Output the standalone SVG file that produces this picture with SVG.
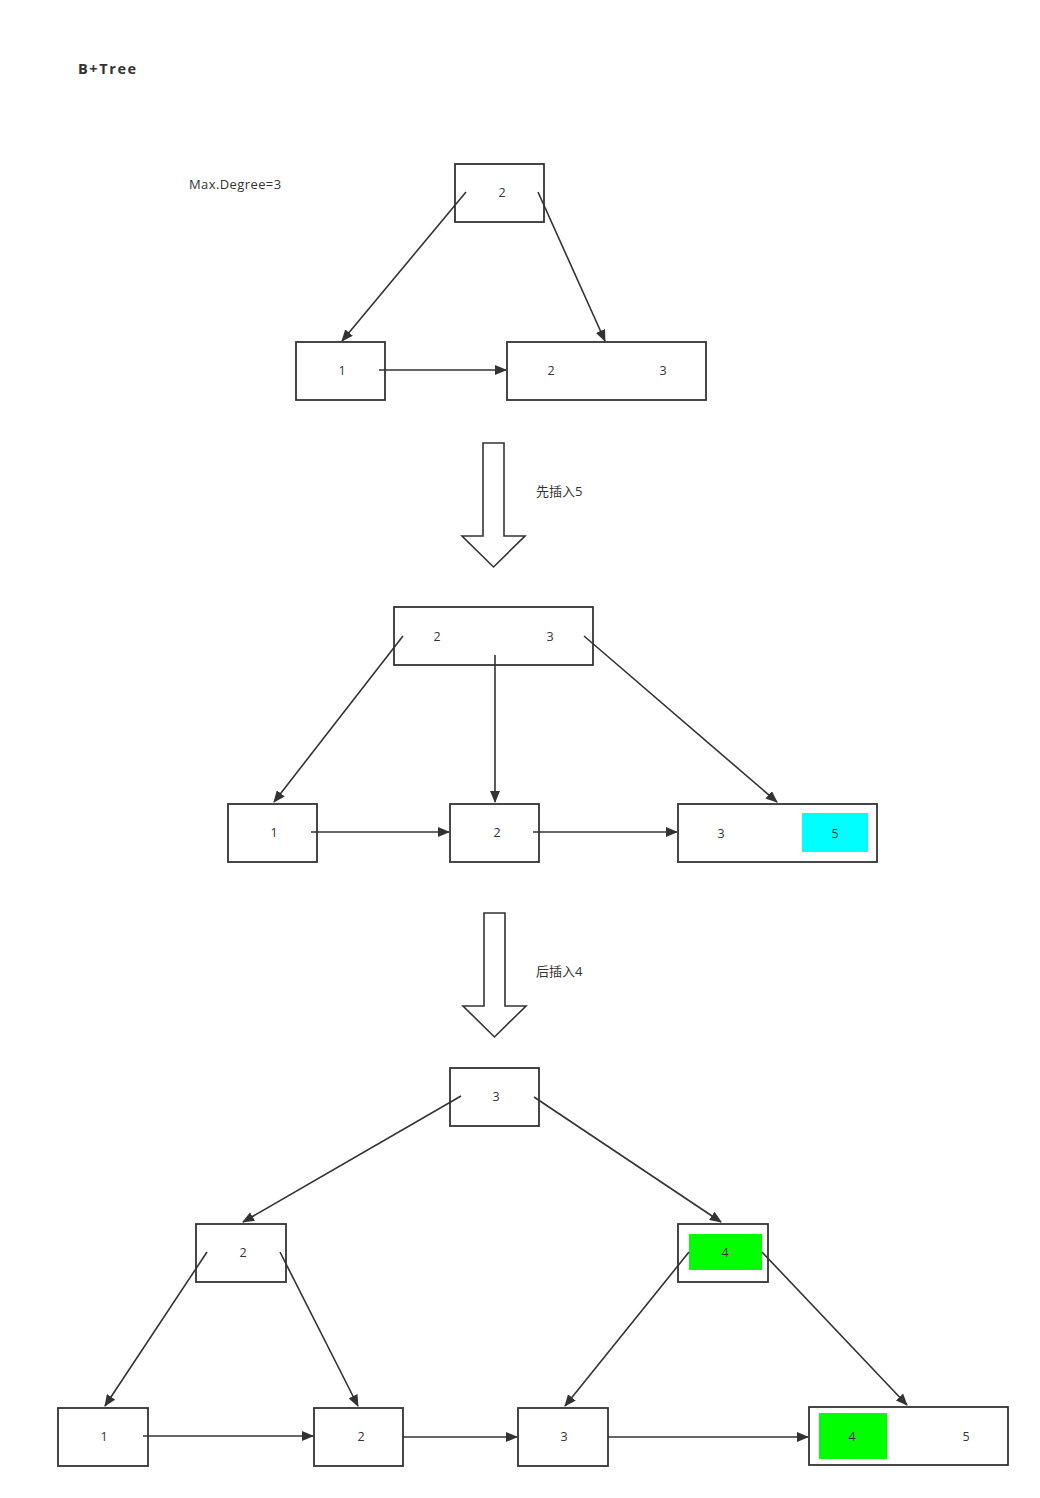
<svg xmlns="http://www.w3.org/2000/svg" width="1040" height="1498" viewBox="0 0 1040 1498">
<style>
.n{fill:#fff;stroke:#333;stroke-width:1.8}
.t{font-family:"Open Sans","Noto Sans CJK SC",sans-serif;font-size:12.5px;fill:#333;text-anchor:middle}
.l{font-family:"Open Sans","Noto Sans CJK SC",sans-serif;font-size:13px;fill:#333}
.e{stroke:#333;stroke-width:1.6;fill:none;marker-end:url(#a)}
.big{fill:#fff;stroke:#333;stroke-width:1.6}
</style>
<defs>
<marker id="a" markerWidth="12" markerHeight="10" refX="11" refY="5" orient="auto" markerUnits="userSpaceOnUse">
<path d="M0,0 L12,5 L0,10 Z" fill="#333"/>
</marker>
</defs>
<rect width="1040" height="1498" fill="#fff"/>
<text x="78" y="74" font-family="'Open Sans','Noto Sans CJK SC',sans-serif" font-size="14.5" font-weight="bold" letter-spacing="1.6" fill="#333">B+Tree</text>
<text class="l" x="189" y="189" letter-spacing="0.4">Max.Degree=3</text>

<g id="d1-root"><rect class="n" x="455" y="164" width="89" height="58"/><text class="t" x="502" y="197">2</text></g>
<g id="d1-leaf1"><rect class="n" x="296" y="342" width="89" height="58"/><text class="t" x="342" y="375">1</text></g>
<g id="d1-leaf2"><rect class="n" x="507" y="342" width="199" height="58"/><text class="t" x="551" y="375">2</text><text class="t" x="663" y="375">3</text></g>

<g id="arrow1"><path class="big" d="M483,443 L504,443 L504,536 L525,536 L493.5,567 L462,536 L483,536 Z"/><text class="l" x="536" y="496">先插入5</text></g>

<g id="d2-root"><rect class="n" x="394" y="607" width="199" height="58"/><text class="t" x="437" y="641">2</text><text class="t" x="550" y="641">3</text></g>
<g id="d2-leaf1"><rect class="n" x="228" y="804" width="89" height="58"/><text class="t" x="274" y="837">1</text></g>
<g id="d2-leaf2"><rect class="n" x="450" y="804" width="89" height="58"/><text class="t" x="497" y="837">2</text></g>
<g id="d2-leaf3"><rect class="n" x="678" y="804" width="199" height="58"/><rect x="802" y="813" width="66" height="39" fill="#00ffff"/><text class="t" x="721" y="838">3</text><text class="t" x="835" y="838">5</text></g>

<g id="arrow2"><path class="big" d="M484,913 L505,913 L505,1006 L526,1006 L494.5,1037 L463,1006 L484,1006 Z"/><text class="l" x="536" y="976">后插入4</text></g>

<g id="d3-root"><rect class="n" x="450" y="1068" width="89" height="58"/><text class="t" x="496" y="1101">3</text></g>
<g id="d3-inL"><rect class="n" x="196" y="1224" width="90" height="58"/><text class="t" x="243" y="1257">2</text></g>
<g id="d3-inR"><rect class="n" x="678" y="1224" width="90" height="58"/><rect x="689" y="1234" width="73" height="36" fill="#00ff00"/><text class="t" x="725" y="1257">4</text></g>
<g id="d3-leaf1"><rect class="n" x="58" y="1408" width="90" height="58"/><text class="t" x="104" y="1441">1</text></g>
<g id="d3-leaf2"><rect class="n" x="314" y="1408" width="89" height="58"/><text class="t" x="361" y="1441">2</text></g>
<g id="d3-leaf3"><rect class="n" x="518" y="1408" width="90" height="58"/><text class="t" x="564" y="1441">3</text></g>
<g id="d3-leaf4"><rect class="n" x="809" y="1407" width="199" height="58"/><rect x="819" y="1413" width="68" height="46" fill="#00ff00"/><text class="t" x="852" y="1441">4</text><text class="t" x="966" y="1441">5</text></g>

<g id="connectors">
<line class="e" x1="466" y1="192" x2="342" y2="341"/>
<line class="e" x1="538" y1="192" x2="605" y2="341"/>
<line class="e" x1="379" y1="370" x2="506" y2="370"/>
<line class="e" x1="403" y1="636" x2="274" y2="802"/>
<line class="e" x1="495" y1="655" x2="495" y2="802"/>
<line class="e" x1="584" y1="636" x2="777" y2="802"/>
<line class="e" x1="311" y1="832" x2="449" y2="832"/>
<line class="e" x1="533" y1="832" x2="677" y2="832"/>
<line class="e" x1="461" y1="1096" x2="243" y2="1222"/>
<line class="e" x1="534" y1="1097" x2="721" y2="1222"/>
<line class="e" x1="207" y1="1252" x2="105" y2="1406"/>
<line class="e" x1="280" y1="1252" x2="358" y2="1406"/>
<line class="e" x1="689" y1="1252" x2="565" y2="1406"/>
<line class="e" x1="762" y1="1252" x2="907" y2="1405"/>
<line class="e" x1="143" y1="1436" x2="313" y2="1436"/>
<line class="e" x1="403" y1="1437" x2="517" y2="1437"/>
<line class="e" x1="608" y1="1437" x2="808" y2="1437"/>
</g>
</svg>
